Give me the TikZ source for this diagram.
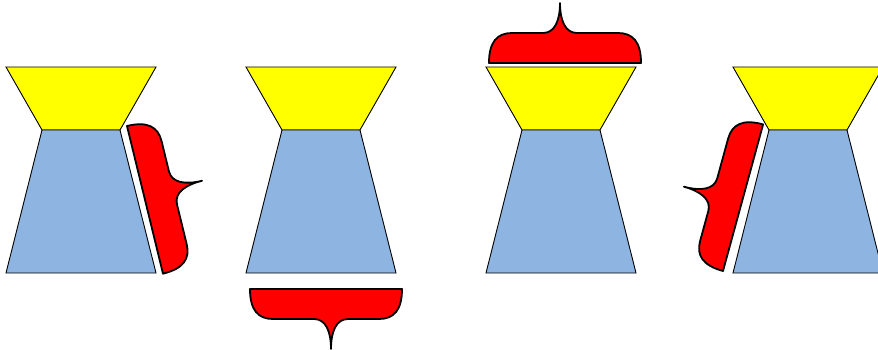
\documentclass[tikz,border=0pt]{standalone}
\usetikzlibrary{calc}
\definecolor{funneltop}{HTML}{FFFF00}
\definecolor{funnelbody}{HTML}{8EB4E2}
\definecolor{bracered}{HTML}{FF0000}
\tikzset{
  funnelpart/.style={draw=black, line width=0.9pt, line join=miter},
  bracepart/.style={draw=black, fill=bracered, line width=1.8pt, line join=round}
}
% one funnel: yellow cup on a blue stand, #1 = left edge
\newcommand{\funnel}[1]{%
  \draw[funnelpart, fill=funneltop] (#1,67) -- ++(150,0) -- ++(-36,63) -- ++(-78,0) -- cycle;
  \draw[funnelpart, fill=funnelbody] (#1+36,130) -- ++(78,0) -- ++(36,143) -- ++(-150,0) -- cycle;}
% one curly brace: #1,#2 = start of the flat side, #3 = angle
\newcommand{\redbrace}[3]{%
  \draw[bracepart, shift={(#1,#2)}, rotate=#3]
    (0,0) .. controls (0,-21) and (8,-30) .. (23,-30) -- (54,-30)
    .. controls (66,-30) and (71,-43) .. (71,-60)
    .. controls (71,-43) and (76,-30) .. (88,-30) -- (129,-30)
    .. controls (144,-30) and (152,-21) .. (152,0) -- cycle;}

\begin{document}
\begin{tikzpicture}[x=1pt, y=-1pt]
  \useasboundingbox (0,0) rectangle (878,350);
  \funnel{6}
  \funnel{246}
  \funnel{486}
  \funnel{733}
  \redbrace{127}{126}{-76.3}
  \redbrace{402}{289}{180}
  \redbrace{489}{63}{0}
  \redbrace{723}{271}{74.7}
\end{tikzpicture}
\end{document}
